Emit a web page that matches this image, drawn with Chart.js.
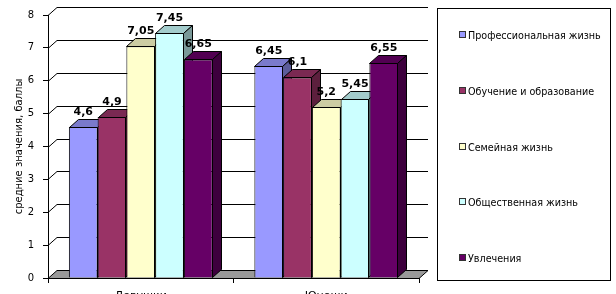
<!DOCTYPE html>
<html>
<head>
<meta charset="utf-8">
<script src="https://cdn.jsdelivr.net/npm/chart.js@4"></script>
<style>
  body { margin: 0; background: #fff; }
  #wrap { position: relative; width: 616px; height: 294px; overflow: hidden; }
  #legend {
    position: absolute; left: 437px; top: 8px; width: 174px; height: 273px;
    border: 1px solid #000; box-sizing: border-box;
    font: 9.6px "DejaVu Sans", sans-serif; color: #000;
  }
  .item { position: absolute; left: 21px; height: 12px; line-height: 12px; white-space: nowrap; }
  .item i { display: inline-block; width: 5px; height: 5px; border: 1px solid #333; margin-right: 2px; vertical-align: 1px; }
</style>
</head>
<body>
<div id="wrap">
  <canvas id="chart" width="616" height="294"></canvas>
  <div id="legend"></div>
</div>
<script>
const groups = ["Девушки", "Юноши"];
const seriesNames = ["Профессиональная жизнь", "Обучение и образование", "Семейная жизнь", "Общественная жизнь", "Увлечения"];
const professional = [4.6, 6.45];
const education = [4.9, 6.1];
const family = [7.05, 5.2];
const social = [7.45, 5.45];
const hobbies = [6.65, 6.55];
const yTicks = [0, 1, 2, 3, 4, 5, 6, 7, 8];

const colors = ["#9999FF", "#993366", "#FFFFCC", "#CCFFFF", "#660066"];
const allSeries = [professional, education, family, social, hobbies];

const dx = 9, dy = 8;

function shade(hex, f) {
  const n = parseInt(hex.slice(1), 16);
  const r = Math.round(((n >> 16) & 255) * f);
  const g = Math.round(((n >> 8) & 255) * f);
  const b = Math.round((n & 255) * f);
  return `rgb(${r},${g},${b})`;
}

function poly(ctx, pts, fill) {
  ctx.fillStyle = fill;
  ctx.beginPath();
  pts.forEach(([px, py], k) => (k ? ctx.lineTo(px, py) : ctx.moveTo(px, py)));
  ctx.closePath();
  ctx.fill();
  ctx.stroke();
}

// draws the back wall, floor and bars left to right so the 3d faces overlap correctly
const box3d = {
  id: "box3d",
  beforeDatasetsDraw(chart) {
    const { ctx, chartArea: a, scales: { y } } = chart;
    ctx.save();
    ctx.strokeStyle = "#000";
    ctx.lineWidth = 1;
    yTicks.forEach(v => {
      if (v === 0) return;
      const py = Math.round(y.getPixelForValue(v)) + 0.5;
      ctx.beginPath();
      ctx.moveTo(a.left, py);
      ctx.lineTo(a.left + dx, py - dy);
      ctx.lineTo(a.right + dx, py - dy);
      ctx.stroke();
    });
    const fy = Math.round(y.getPixelForValue(0)) + 0.5;
    poly(ctx, [[a.left, fy], [a.left + dx, fy - dy], [a.right + dx, fy - dy], [a.right, fy]], "#999999");

    chart.data.datasets.forEach((ds, i) => {
      const col = colors[i];
      chart.getDatasetMeta(i).data.forEach(bar => {
        bar.draw(ctx);
        const { x, y: by, base, width } = bar.getProps(["x", "y", "base", "width"], true);
        const l = Math.round(x - width / 2) + 0.5, r = Math.round(x + width / 2) - 0.5;
        const t = Math.round(by) + 0.5, b = Math.round(base) - 0.5;
        ctx.strokeStyle = "#000";
        ctx.lineWidth = 1;
        poly(ctx, [[l, t], [l + dx, t - dy], [r + dx, t - dy], [r, t]], shade(col, 0.8));
        poly(ctx, [[r, t], [r + dx, t - dy], [r + dx, b - dy], [r, b]], shade(col, 0.6));
      });
    });

    ctx.font = "bold 11px 'DejaVu Sans'";
    ctx.fillStyle = "#000";
    ctx.textAlign = "center";
    ctx.textBaseline = "alphabetic";
    chart.data.datasets.forEach((ds, i) => {
      chart.getDatasetMeta(i).data.forEach((bar, j) => {
        ctx.fillText(String(ds.data[j]).replace(".", ","), bar.x, bar.y - dy - 4);
      });
    });
    ctx.restore();
    return false;
  }
};

new Chart(document.getElementById("chart"), {
  type: "bar",
  data: {
    labels: groups,
    datasets: allSeries.map((data, i) => ({
      label: seriesNames[i],
      data,
      backgroundColor: colors[i],
      borderColor: "#000",
      borderWidth: 1,
      categoryPercentage: 0.775,
      barPercentage: 1.0
    }))
  },
  options: {
    responsive: false,
    animation: false,
    layout: { padding: { left: 0, right: 197, top: 15, bottom: 0 } },
    plugins: { legend: { display: false }, tooltip: { enabled: false } },
    scales: {
      x: {
        afterFit: s => { s.height = 16; },
        grid: { drawOnChartArea: false, color: "#000", tickLength: 5, offset: true },
        border: { color: "#000" },
        ticks: { color: "#000", padding: 7, font: { family: "DejaVu Sans", size: 11 } }
      },
      y: {
        min: 0, max: 8,
        afterFit: s => { s.width = 48; },
        afterBuildTicks: s => { s.ticks = yTicks.map(v => ({ value: v })); },
        grid: { drawOnChartArea: false, color: "#000", tickLength: 5 },
        border: { color: "#000" },
        ticks: { color: "#000", padding: 9, font: { family: "DejaVu Sans", size: 10 } },
        title: {
          display: true,
          text: "средние значения, баллы",
          color: "#000",
          padding: { top: 13, bottom: 0 },
          font: { family: "DejaVu Sans", size: 10 }
        }
      }
    }
  },
  plugins: [box3d]
});

const legend = document.getElementById("legend");
seriesNames.forEach((name, i) => {
  const el = document.createElement("div");
  el.className = "item";
  el.style.top = (21 + i * 55.8) + "px";
  el.innerHTML = `<i style="background:${colors[i]}"></i>${name}`;
  legend.appendChild(el);
});
</script>
</body>
</html>
